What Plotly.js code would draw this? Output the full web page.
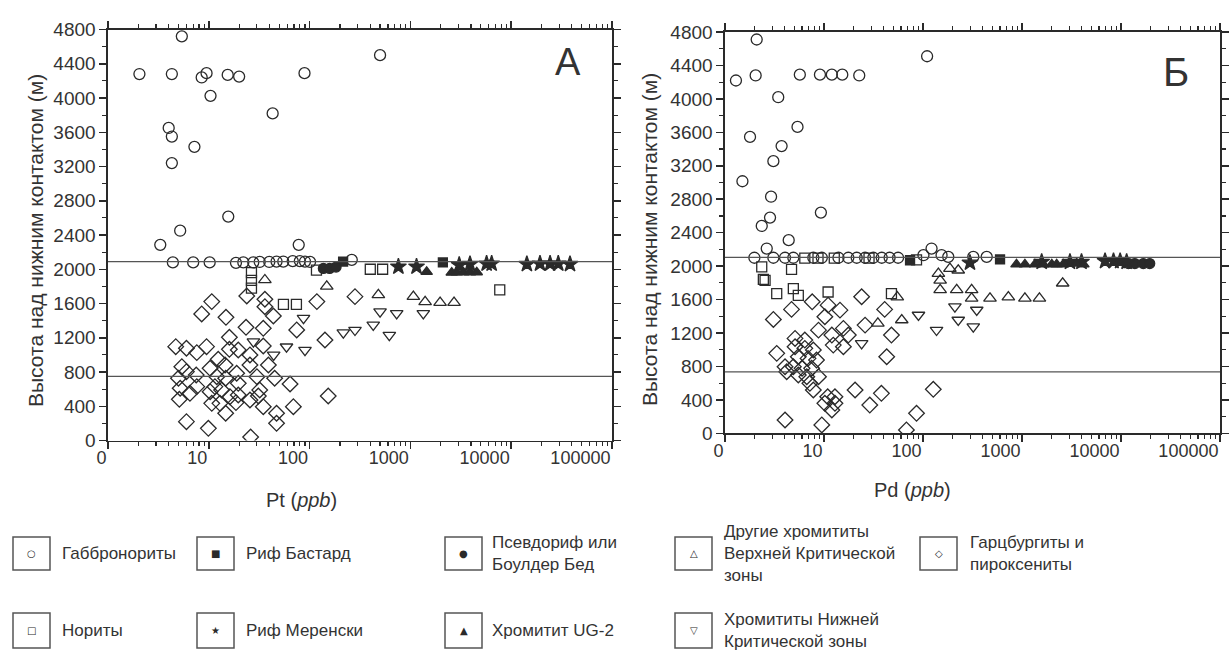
<!DOCTYPE html>
<html>
<head>
<meta charset="utf-8">
<script src="https://cdn.plot.ly/plotly-3.0.1.min.js"></script>
<style>html,body{margin:0;padding:0;background:#fff;}#chart{width:1229px;height:651px;}</style>
</head>
<body>
<div id="chart"></div>
<script>
// ---------------- DATA ----------------
// Tick labels (log axis: first label "0" sits at value 1)
const xTickVals = [1, 10, 100, 1000, 10000, 100000];
const xTickText = ["0", "10", "100", "1000", "10000", "100000"];
const yTickVals = [0, 400, 800, 1200, 1600, 2000, 2400, 2800, 3200, 3600, 4000, 4400, 4800];

// Horizontal boundary lines (m)
const boundaryA = [2090, 750];
const boundaryB = [2105, 735];

// ---- Panel A: Pt (ppb) ----
const gabbroPtX = [2.05, 4.3, 5.4, 8.5, 9.5, 15.4, 20, 89, 10.4, 43, 4.0, 4.3, 7.2, 4.3, 15.6, 5.2, 3.3, 78, 500,
  4.4, 7.0, 10.2, 18.6, 22, 27.6, 32, 39.8, 47, 54.8, 68, 80, 90, 101, 262];
const gabbroPtY = [4280, 4280, 4720, 4240, 4290, 4270, 4250, 4290, 4025, 3820, 3650, 3550, 3430, 3240, 2615, 2450, 2285, 2285, 4500,
  2080, 2080, 2080, 2075, 2080, 2080, 2085, 2085, 2090, 2090, 2095, 2095, 2090, 2085, 2110];

const noritePtX = [26.5, 26.5, 26.5, 55, 74, 117, 400, 530, 7700];
const noritePtY = [1960, 1870, 1780, 1590, 1590, 1990, 2000, 2000, 1760];

const bastardPtX = [215, 2100];
const bastardPtY = [2090, 2080];

const pseudoPtX = [137, 158, 183];
const pseudoPtY = [2010, 2010, 2025];

const merenskyPtX = [760, 1150, 3050, 3900, 5700, 6400, 14300, 19300, 24300, 29300, 38300];
const merenskyPtY = [2030, 2030, 2050, 2060, 2065, 2065, 2060, 2065, 2065, 2065, 2060];

const ug2PtX = [1450, 2570, 2880, 3350, 3900, 4550, 6150];
const ug2PtY = [1970, 1960, 1965, 1965, 1965, 1965, 2050];

const uczPtX = [36, 148, 481, 1070, 1400, 1970, 2710];
const uczPtY = [1875, 1800, 1700, 1680, 1620, 1610, 1610];

const lczPtX = [27.7, 44, 59, 90, 87, 216, 282, 428, 500, 731, 618, 1343];
const lczPtY = [1155, 1000, 1095, 1055, 1430, 1260, 1290, 1350, 1505, 1485, 1230, 1485];

const harzPtX = [23.8, 10.7, 8.5, 14.8, 36, 36, 43.7, 118, 74.5, 142, 23.4, 34.7, 16, 34.7, 4.7, 6.0, 7.6, 9.5, 16, 19.6,
  25.6, 39, 12.4, 14.5, 10.3, 6.0, 7.5, 5.0, 12, 14.7, 19.6, 45, 64, 5.2, 7.6, 10.3, 13.4, 5.1, 6.5, 10.7,
  12.9, 18.6, 25.6, 31, 34.7, 19.6, 14.7, 47, 69, 153, 6.0, 9.9, 47, 26, 282, 25.6, 18.9, 30, 32, 16.2, 11.5, 5.4];
const harzPtY = [1688, 1622, 1478, 1439, 1650, 1563, 1454, 1622, 1291, 1174, 1322, 1310, 1205, 1104, 1096, 1077, 1026, 1096, 1065, 1057,
  999, 882, 948, 882, 843, 804, 765, 727, 745, 727, 668, 727, 660, 610, 629, 570, 590, 481, 551, 434,
  434, 442, 473, 520, 395, 531, 318, 318, 395, 520, 220, 142, 201, 40, 1680, 882, 785, 745, 590, 512, 629, 862];

// ---- Panel B: Pd (ppb) ----
const gabbroPdX = [1.29, 2.04, 2.09, 3.45, 5.7, 9.1, 12, 15.3, 22.7, 110, 1.79, 5.4, 3.73, 3.08, 1.5, 2.92, 2.85, 2.35, 9.3, 4.4, 2.64, 122,
  1.98, 3.08, 4.04, 4.9, 7.8, 9.5, 14, 17.6, 21.4, 26, 31.5, 38.3, 46, 56, 101, 154, 180, 322, 440];
const gabbroPdY = [4220, 4280, 4710, 4020, 4290, 4290, 4290, 4290, 4280, 4510, 3545, 3665, 3435, 3255, 3015, 2830, 2580, 2480, 2640, 2310, 2210, 2210,
  2100, 2100, 2100, 2100, 2100, 2100, 2100, 2100, 2100, 2100, 2100, 2100, 2100, 2100, 2130, 2130, 2110, 2110, 2110];

const noritePdX = [4.7, 2.35, 2.54, 3.33, 5.5, 11, 48, 2.44, 4.9, 6.4, 8.7, 12.7, 28.5, 86];
const noritePdY = [1960, 1990, 1830, 1670, 1650, 1690, 1670, 1840, 1730, 2095, 2095, 2095, 2095, 2075];

const bastardPdX = [74, 600];
const bastardPdY = [2070, 2080];

const pseudoPdX = [11900, 13800, 16800, 19500];
const pseudoPdY = [2030, 2030, 2030, 2030];

const merenskyPdX = [298, 1580, 3050, 3990, 6900, 8400, 9800, 11400];
const merenskyPdY = [2040, 2050, 2050, 2050, 2060, 2060, 2060, 2050];

const ug2PdX = [880, 1070, 1350, 1640, 2000, 2240, 2610, 3570, 4170];
const ug2PdY = [2020, 2020, 2020, 2020, 2020, 2020, 2020, 2030, 2020];

const uczPdX = [143, 149, 187, 227, 149, 219, 310, 310, 475, 728, 1070, 1500, 2575, 35, 61, 55];
const uczPdY = [1910, 1830, 1970, 1950, 1715, 1715, 1715, 1615, 1615, 1630, 1615, 1615, 1795, 1315, 1355, 1630];

const lczPdX = [90, 137, 227, 210, 322, 349, 24];
const lczPdY = [1415, 1235, 1355, 1515, 1275, 1475, 1075];

const harzPdX = [3.08, 4.7, 7.6, 24, 41, 48, 26, 14.5, 10.2, 8.8, 12, 15.7, 17.6, 12.4, 15.7, 3.33, 5.1, 6.4, 5.1, 6.4,
  7.8, 5.5, 6.9, 8.4, 4.04, 4.9, 6.0, 7.5, 4.2, 5.5, 6.7, 8.8, 7.2, 7.8, 43, 20.6, 38, 29, 10.9, 12.9,
  10.2, 12.9, 12, 9.5, 4.04, 86, 68, 127, 11];
const harzPdY = [1362, 1482, 1573, 1633, 1482, 1175, 1294, 1473, 1394, 1234, 1175, 1255, 1175, 1055, 1035, 956, 1135, 1115, 1035, 1016,
  996, 916, 896, 876, 796, 796, 777, 777, 736, 697, 677, 677, 598, 518, 916, 518, 478, 338, 437, 437,
  359, 359, 279, 100, 159, 239, 40, 526, 1533];

// Legend labels
const legendRow1 = ["Габбронориты", "Риф Бастард", "Псевдориф или<br>Боулдер Бед", "Другие хромититы<br>Верхней Критической<br>зоны", "Гарцбургиты и<br>пироксениты"];
const legendRow2 = ["Нориты", "Риф Меренски", "Хромитит UG-2", "Хромититы Нижней<br>Критической зоны"];
const legendIcons1 = ["○", "■", "●", "△", "◇"];
const legendIcons2 = ["□", "★", "▲", "▽"];

// ---------------- STYLE / LAYOUT ----------------
const W = 1229, H = 651;
const px = x => x / W;
const py = y => 1 - y / H;
const INK = "#2a2a2a";
const FONT = "Liberation Sans, Arial, sans-serif";

const styles = {
  gabbro:   {symbol: "circle-open", size: 11},
  norite:   {symbol: "square-open", size: 10},
  bastard:  {symbol: "square", size: 9},
  pseudo:   {symbol: "circle", size: 10},
  merensky: {symbol: "star", size: 12},
  ug2:      {symbol: "triangle-up", size: 10},
  ucz:      {symbol: "triangle-up-open", size: 11},
  lcz:      {symbol: "triangle-down-open", size: 11},
  harz:     {symbol: "diamond-open", size: 12}
};

function tr(x, y, st, xa, ya) {
  const s = styles[st];
  return {
    type: "scatter", mode: "markers", x: x, y: y, xaxis: xa, yaxis: ya,
    showlegend: false, hoverinfo: "x+y",
    marker: {symbol: s.symbol, size: s.size, color: INK, line: {color: INK, width: 1.3}}
  };
}

const traces = [
  tr(harzPtX, harzPtY, "harz", "x", "y"),
  tr(lczPtX, lczPtY, "lcz", "x", "y"),
  tr(uczPtX, uczPtY, "ucz", "x", "y"),
  tr(noritePtX, noritePtY, "norite", "x", "y"),
  tr(gabbroPtX, gabbroPtY, "gabbro", "x", "y"),
  tr(bastardPtX, bastardPtY, "bastard", "x", "y"),
  tr(pseudoPtX, pseudoPtY, "pseudo", "x", "y"),
  tr(merenskyPtX, merenskyPtY, "merensky", "x", "y"),
  tr(ug2PtX, ug2PtY, "ug2", "x", "y"),
  tr(harzPdX, harzPdY, "harz", "x2", "y2"),
  tr(lczPdX, lczPdY, "lcz", "x2", "y2"),
  tr(uczPdX, uczPdY, "ucz", "x2", "y2"),
  tr(noritePdX, noritePdY, "norite", "x2", "y2"),
  tr(gabbroPdX, gabbroPdY, "gabbro", "x2", "y2"),
  tr(bastardPdX, bastardPdY, "bastard", "x2", "y2"),
  tr(pseudoPdX, pseudoPdY, "pseudo", "x2", "y2"),
  tr(merenskyPdX, merenskyPdY, "merensky", "x2", "y2"),
  tr(ug2PdX, ug2PdY, "ug2", "x2", "y2")
];

const minorLog = [];
for (let d = 1; d < 100000; d *= 10) for (let k = 2; k <= 9; k++) minorLog.push(k * d);

function xAxis(domain, anchor) {
  return {
    type: "log", range: [0, 5], domain: domain, anchor: anchor,
    tickmode: "array", tickvals: xTickVals, ticktext: xTickText,
    ticks: "outside", ticklen: 7, tickwidth: 1.5, tickcolor: INK,
    ticklabelposition: "outside left",
    minor: {tickmode: "array", tickvals: minorLog, ticks: "outside", ticklen: 4, tickwidth: 1.2, tickcolor: INK, showgrid: false},
    showline: true, linecolor: INK, linewidth: 1.6, mirror: "ticks",
    showgrid: false, zeroline: false,
    tickfont: {family: FONT, size: 18, color: "#333"}
  };
}
function yAxis(domain, anchor) {
  return {
    range: [0, 4800], domain: domain, anchor: anchor,
    tickmode: "array", tickvals: yTickVals,
    ticks: "outside", ticklen: 7, tickwidth: 1.5, tickcolor: INK,
    minor: {dtick: 200, ticks: "outside", ticklen: 4, tickwidth: 1.2, tickcolor: INK, showgrid: false},
    showline: true, linecolor: INK, linewidth: 1.6, mirror: "ticks",
    showgrid: false, zeroline: false,
    tickfont: {family: FONT, size: 19, color: "#333"}
  };
}

const shapes = [];
boundaryA.forEach(v => shapes.push({type: "line", xref: "x domain", yref: "y", x0: 0, x1: 1, y0: v, y1: v, line: {color: "#555", width: 1.2}}));
boundaryB.forEach(v => shapes.push({type: "line", xref: "x2 domain", yref: "y2", x0: 0, x1: 1, y0: v, y1: v, line: {color: "#555", width: 1.2}}));

const boxX = [13, 197, 445, 675, 920];
const textX = [60, 244, 490, 722, 968];
const rowBox = [[537, 570], [613, 648]];
const rows = [[legendRow1, legendIcons1], [legendRow2, legendIcons2]];
const annotations = [];
rows.forEach((r, ri) => {
  const [y0, y1] = rowBox[ri];
  r[0].forEach((label, i) => {
    shapes.push({type: "rect", xref: "paper", yref: "paper", x0: px(boxX[i]), x1: px(boxX[i] + 37), y0: py(y1), y1: py(y0),
      line: {color: "#555", width: 1.5}, fillcolor: "rgba(0,0,0,0)"});
    annotations.push({xref: "paper", yref: "paper", x: px(boxX[i] + 18.5), y: py((y0 + y1) / 2), text: r[1][i],
      showarrow: false, xanchor: "center", yanchor: "middle", font: {family: "DejaVu Sans", size: 10, color: INK}});
    annotations.push({xref: "paper", yref: "paper", x: px(textX[i]), y: py((y0 + y1) / 2), text: label,
      showarrow: false, xanchor: "left", yanchor: "middle", align: "left", font: {family: FONT, size: 17, color: "#333"}});
  });
});

annotations.push(
  {xref: "paper", yref: "paper", x: px(35), y: py(241), text: "Высота над нижним контактом (м)", textangle: -90,
    showarrow: false, xanchor: "center", yanchor: "middle", font: {family: FONT, size: 21, color: "#333"}},
  {xref: "paper", yref: "paper", x: px(650), y: py(240), text: "Высота над нижним контактом (м)", textangle: -90,
    showarrow: false, xanchor: "center", yanchor: "middle", font: {family: FONT, size: 21, color: "#333"}},
  {xref: "paper", yref: "paper", x: px(301), y: py(500), text: "Pt (<i>ppb</i>)",
    showarrow: false, xanchor: "center", yanchor: "middle", font: {family: FONT, size: 20, color: "#333"}},
  {xref: "paper", yref: "paper", x: px(912), y: py(490), text: "Pd (<i>ppb</i>)",
    showarrow: false, xanchor: "center", yanchor: "middle", font: {family: FONT, size: 20, color: "#333"}},
  {xref: "paper", yref: "paper", x: px(568), y: py(62), text: "A",
    showarrow: false, xanchor: "center", yanchor: "middle", font: {family: FONT, size: 38, color: "#333"}},
  {xref: "paper", yref: "paper", x: px(1176), y: py(72), text: "Б",
    showarrow: false, xanchor: "center", yanchor: "middle", font: {family: FONT, size: 40, color: "#333"}}
);

const layout = {
  width: W, height: H,
  margin: {l: 0, r: 0, t: 0, b: 0},
  paper_bgcolor: "#fff", plot_bgcolor: "#fff",
  showlegend: false,
  xaxis: xAxis([px(108), px(612)], "y"),
  yaxis: yAxis([py(440.5), py(29.5)], "x"),
  xaxis2: xAxis([px(725), px(1220)], "y2"),
  yaxis2: yAxis([py(433.3), py(32)], "x2"),
  shapes: shapes,
  annotations: annotations,
  font: {family: FONT}
};

Plotly.newPlot("chart", traces, layout, {staticPlot: true, displayModeBar: false});
</script>
</body>
</html>
